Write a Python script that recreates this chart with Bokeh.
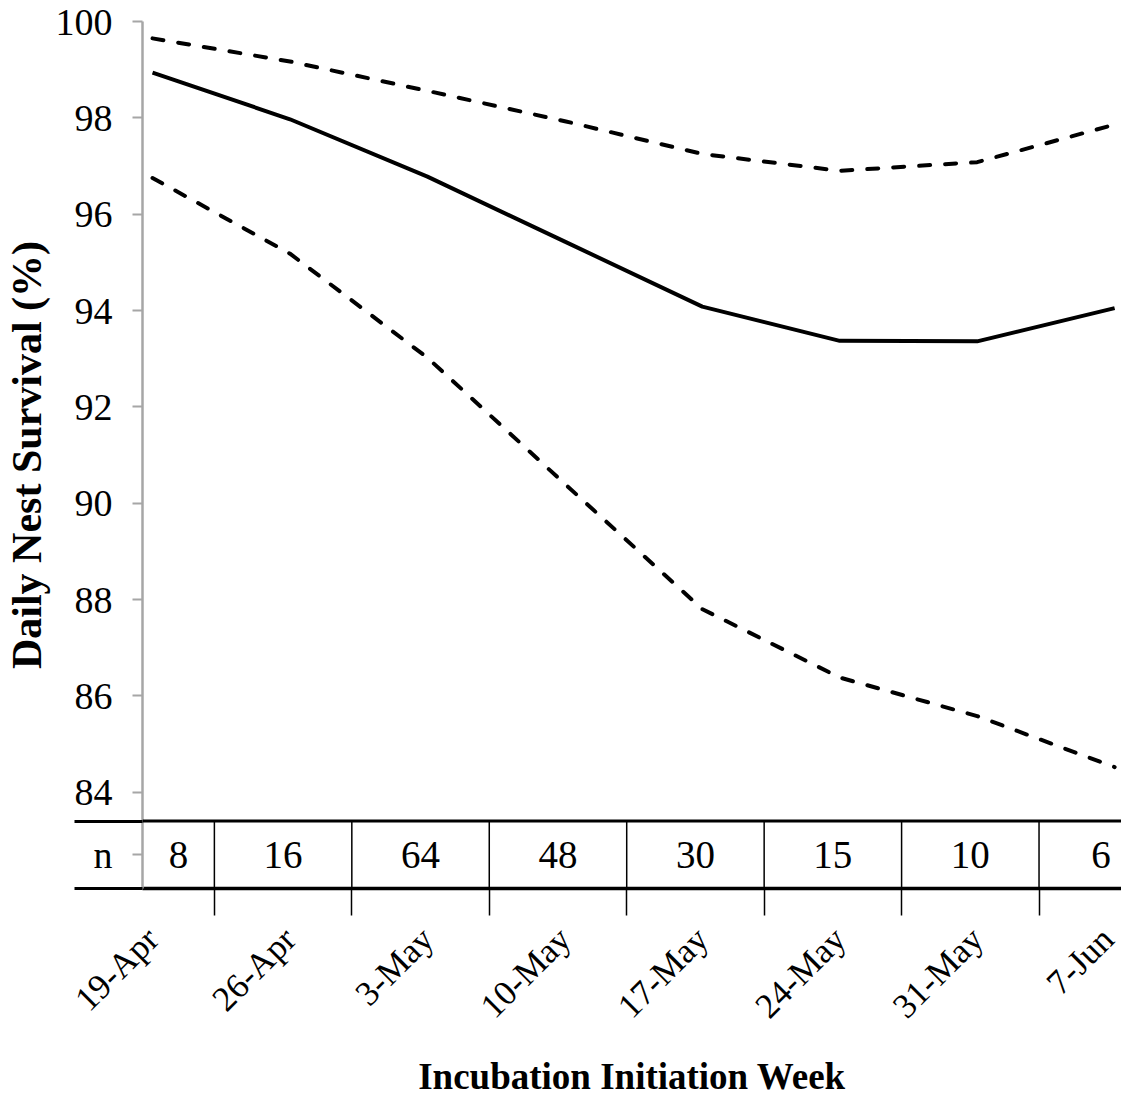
import math
from bokeh.plotting import figure
from bokeh.models import Range1d, FixedTicker, Span, NumeralTickFormatter
from bokeh.core.properties import value
from bokeh.embed import file_html
from bokeh.resources import INLINE

# ---- data -------------------------------------------------------------
weeks = ["19-Apr", "26-Apr", "3-May", "10-May", "17-May", "24-May", "31-May", "7-Jun"]
survival = [98.94, 97.97, 96.78, 95.43, 94.08, 93.37, 93.36, 94.05]
upper_ci = [99.65, 99.17, 98.56, 97.93, 97.25, 96.90, 97.08, 97.86]
lower_ci = [96.75, 95.18, 93.02, 90.40, 87.80, 86.38, 85.58, 84.52]
n_nests = [8, 16, 64, 48, 30, 15, 10, 6]
y_ticks = [84, 86, 88, 90, 92, 94, 96, 98, 100]

FONT = "Liberation Serif"
x = list(range(len(weeks)))

# table layout (cell boundaries between weeks)
x_start, x_end = -0.073, 7.05
dividers = [i + 0.45 for i in range(len(weeks) - 1)]
bounds = [x_start] + dividers + [7.35]
centers = [(a + b) / 2 for a, b in zip(bounds[:-1], bounds[1:])]
table_top, table_bottom = 83.4, 82.0
table_mid = (table_top + table_bottom) / 2

p = figure(frame_width=979, frame_height=867,
           min_border_left=132, min_border_right=0, min_border_top=21, min_border_bottom=201,
           x_range=Range1d(x_start, x_end), y_range=Range1d(table_bottom, 100),
           output_backend="svg", toolbar_location=None,
           background_fill_color="white", border_fill_color="white")
p.outline_line_color = None
p.grid.visible = False

# ---- y axis (also carries the "n" row label and the table rules' left ends)
yax = p.yaxis[0]
yax.ticker = FixedTicker(ticks=y_ticks + [table_mid], minor_ticks=[table_top, table_bottom])
yax.formatter = NumeralTickFormatter(format="0")
yax.major_label_overrides = {table_mid: "n"}
yax.axis_line_color = "#a6a6a6"
yax.axis_line_width = 2.5
yax.major_tick_line_color = "#a6a6a6"
yax.major_tick_line_width = 2
yax.major_tick_out = 10
yax.major_tick_in = 0
yax.minor_tick_line_color = "black"
yax.minor_tick_line_width = 3
yax.minor_tick_out = 68
yax.minor_tick_in = 0
yax.major_label_text_font = FONT
yax.major_label_text_font_size = "38px"
yax.major_label_text_color = "black"
yax.major_label_standoff = -38
yax.axis_label = "Daily Nest Survival (%)"
yax.axis_label_text_font = FONT
yax.axis_label_text_font_style = "bold"
yax.axis_label_text_font_size = "42px"
yax.axis_label_text_color = "black"
yax.axis_label_standoff = 3

# ---- x axis -----------------------------------------------------------
xax = p.xaxis[0]
xax.ticker = FixedTicker(ticks=x, minor_ticks=dividers)
xax.major_label_overrides = {i: w for i, w in enumerate(weeks)}
xax.major_label_orientation = math.pi / 4
xax.major_tick_line_color = None
xax.major_tick_out = 0
xax.major_tick_in = 0
xax.minor_tick_line_color = "black"
xax.minor_tick_line_width = 1.5
xax.minor_tick_out = 27
xax.minor_tick_in = 0
xax.axis_line_color = "black"
xax.axis_line_width = 3.5
xax.major_label_text_font = FONT
xax.major_label_text_font_size = "35px"
xax.major_label_text_color = "black"
xax.major_label_standoff = 18
xax.axis_label = "Incubation Initiation Week"
xax.axis_label_text_font = FONT
xax.axis_label_text_font_style = "bold"
xax.axis_label_text_font_size = "37px"
xax.axis_label_text_color = "black"
xax.axis_label_standoff = 14

# ---- table of sample sizes -------------------------------------------
p.add_layout(Span(location=table_top, dimension="width", line_color="black", line_width=3))
p.segment(x0=dividers, y0=[table_bottom] * len(dividers), x1=dividers, y1=[table_top] * len(dividers),
          line_color="black", line_width=1.5)
p.text(x=centers, y=[table_mid] * len(centers), text=[str(n) for n in n_nests],
       text_font=value(FONT), text_font_size="39px", text_align="center",
       text_baseline="middle", text_color="black")

# ---- series -----------------------------------------------------------
p.line(x, upper_ci, line_color="black", line_width=4, line_dash="11 15", line_cap="round")
p.line(x, lower_ci, line_color="black", line_width=4, line_dash="11 15", line_cap="round")
p.line(x, survival, line_color="black", line_width=4, line_join="round")

open("out.html", "w").write(file_html(p, INLINE))
